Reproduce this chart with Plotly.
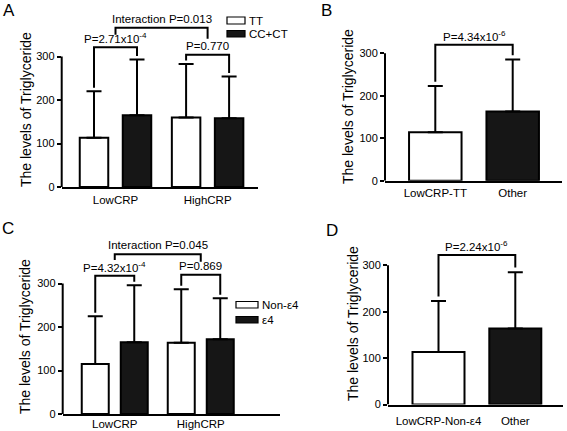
import plotly.graph_objects as go

W, H = 567, 431
FONT = "Liberation Sans, Arial, sans-serif"

# ---------------- data ----------------
# Panel A
a_groups = ["LowCRP", "HighCRP"]
a_series = ["TT", "CC+CT"]
a_tt_mean = [113, 160]
a_tt_sd = [107, 123]
a_cc_mean = [165, 158]
a_cc_sd = [128, 96]
a_p_within = ["P=2.71x10<sup>-4</sup>", "P=0.770"]
a_bracket_y = [321, 304]
a_interaction = "Interaction P=0.013"
a_inter_y = 366
a_inter_leg_bottom = [350, 341]

# Panel B
b_groups = ["LowCRP-TT", "Other"]
b_mean = [114, 163]
b_sd = [109, 122]
b_p = "P=4.34x10<sup>-6</sup>"
b_bracket_y = 320

# Panel C
c_groups = ["LowCRP", "HighCRP"]
c_series = ["Non-ε4", "ε4"]
c_non_mean = [115, 164]
c_non_sd = [110, 123]
c_e4_mean = [165, 172]
c_e4_sd = [131, 94]
c_p_within = ["P=4.32x10<sup>-4</sup>", "P=0.869"]
c_bracket_y = [318, 320]
c_interaction = "Interaction P=0.045"
c_inter_y = 367
c_inter_leg_bottom = [354, 350]

# Panel D
d_groups = ["LowCRP-Non-ε4", "Other"]
d_mean = [113, 164]
d_sd = [110, 121]
d_p = "P=2.24x10<sup>-6</sup>"
d_bracket_y = 322

y_ticks = [0, 100, 200, 300]
y_title = "The levels of Triglyceride"
panel_letters = ["A", "B", "C", "D"]

# ---------------- geometry (pixels) ----------------
YMAX = 400
geom = {
    1: dict(left=61.7, right=258.3, base=187.0, p300=56.5, g0=115.5, g1=207.6,
            off=21.5, bw=28.5, standoff=1, title=(26, 110), letter=(1, 10.5)),
    2: dict(left=385.0, right=561.7, base=180.8, p300=53.2, g0=435.3, g1=512.7,
            off=0, bw=52.5, standoff=0, title=(348, 107), letter=(319, 10)),
    3: dict(left=62.7, right=280.0, base=414.0, p300=283.5, g0=114.75, g1=200.75,
            off=19.5, bw=27.0, standoff=-2, title=(25, 337), letter=(0, 228.5)),
    4: dict(left=388.0, right=563.0, base=404.5, p300=265.3, g0=438.5, g1=515.3,
            off=0, bw=52.0, standoff=5, title=(353, 324), letter=(324, 230.5)),
}

BLACK = "#000000"
DARK = "#161616"
fig = go.Figure()
shapes = []
annotations = []


def px(x):
    return x / W


def py(y):
    return 1 - y / H


def setup_axes(i, ticktext):
    g = geom[i]
    u = g["g1"] - g["g0"]
    top = g["base"] - YMAX * (g["base"] - g["p300"]) / 300.0
    xname = "xaxis" if i == 1 else f"xaxis{i}"
    yname = "yaxis" if i == 1 else f"yaxis{i}"
    xa = "x" if i == 1 else f"x{i}"
    ya = "y" if i == 1 else f"y{i}"
    fig.update_layout(**{
        xname: dict(domain=[px(g["left"]), px(g["right"])],
                    range=[(g["left"] - g["g0"]) / u, (g["right"] - g["g0"]) / u],
                    anchor=ya, showgrid=False, zeroline=False, showline=True,
                    automargin=False,
                    linecolor=BLACK, linewidth=2, ticks="", tickvals=[0, 1],
                    ticktext=ticktext, ticklabelstandoff=g["standoff"],
                    tickfont=dict(family=FONT, size=11.5, color=BLACK)),
        yname: dict(domain=[py(g["base"]), py(top)], range=[0, YMAX], anchor=xa,
                    showgrid=False, zeroline=False, showline=False, automargin=False,
                    ticks="outside", ticklen=4, tickwidth=2, tickcolor=BLACK,
                    tickvals=y_ticks,
                    tickfont=dict(family=FONT, size=11, color=BLACK)),
    })
    # y axis line only from 0 to 300
    shapes.append(dict(type="line", xref=f"{xa} domain", yref=ya, x0=0, x1=0,
                       y0=0, y1=y_ticks[-1], line=dict(color=BLACK, width=2)))
    tx, ty = g["title"]
    annotations.append(dict(text=y_title, xref="paper", yref="paper", x=px(tx), y=py(ty),
                            textangle=-90, showarrow=False, xanchor="center", yanchor="middle",
                            font=dict(family=FONT, size=14, color=BLACK)))
    lx, ly = g["letter"]
    annotations.append(dict(text=panel_letters[i - 1], xref="paper", yref="paper",
                            x=px(lx), y=py(ly), showarrow=False, xanchor="left",
                            yanchor="middle", font=dict(family=FONT, size=17, color=BLACK)))
    return xa, ya, u


def err(sd):
    return dict(type="data", symmetric=False, array=sd, arrayminus=[0] * len(sd),
                color=BLACK, thickness=2, width=7.5)


def bracket(xa, ya, x0, x1, y, yl, yr):
    shapes.append(dict(type="path", xref=xa, yref=ya,
                       path=f"M {x0},{yl} L {x0},{y} L {x1},{y} L {x1},{yr}",
                       line=dict(color=BLACK, width=2)))


def ptext(xa, ya, x, y, text):
    annotations.append(dict(text=text, xref=xa, yref=ya, x=x, y=y, yshift=9,
                            showarrow=False, xanchor="center", yanchor="middle",
                            font=dict(family=FONT, size=11.5, color=BLACK)))


def grouped_panel(i, groups, m1, s1, m2, s2, pw, by, inter_text, inter_y, inter_legs):
    xa, ya, u = setup_axes(i, groups)
    g = geom[i]
    off = g["off"] / u
    bw = g["bw"] / u
    xs1 = [k - off for k in range(len(groups))]
    xs2 = [k + off for k in range(len(groups))]
    fig.add_trace(go.Bar(x=xs1, y=m1, width=[bw] * len(groups), xaxis=xa, yaxis=ya,
                         marker=dict(color="white", line=dict(color=BLACK, width=2)),
                         error_y=err(s1), showlegend=False))
    fig.add_trace(go.Bar(x=xs2, y=m2, width=[bw] * len(groups), xaxis=xa, yaxis=ya,
                         marker=dict(color=DARK, line=dict(color=BLACK, width=2)),
                         error_y=err(s2), showlegend=False))
    for k in range(len(groups)):
        bracket(xa, ya, xs1[k], xs2[k], by[k], m1[k] + s1[k] + 8, m2[k] + s2[k] + 8)
        ptext(xa, ya, k, by[k], pw[k])
    bracket(xa, ya, 0, 1, inter_y, inter_legs[0], inter_legs[1])
    ptext(xa, ya, 0.5, inter_y, inter_text)


def pair_panel(i, groups, m, s, ptxt, by):
    xa, ya, u = setup_axes(i, groups)
    g = geom[i]
    bw = g["bw"] / u
    xs = list(range(len(groups)))
    fig.add_trace(go.Bar(x=xs, y=m, width=[bw] * len(groups), xaxis=xa, yaxis=ya,
                         marker=dict(color=["white", DARK], line=dict(color=BLACK, width=2)),
                         error_y=err(s), showlegend=False))
    bracket(xa, ya, 0, 1, by, m[0] + s[0] + 10, m[1] + s[1] + 10)
    ptext(xa, ya, 0.5, by, ptxt)


def legend(entries, x0, x1, rows, text_x):
    for (label, fill), (y0, y1) in zip(entries, rows):
        shapes.append(dict(type="rect", xref="paper", yref="paper",
                           x0=px(x0), x1=px(x1), y0=py(y1), y1=py(y0),
                           fillcolor=fill, line=dict(color=BLACK, width=1.2)))
        annotations.append(dict(text=label, xref="paper", yref="paper", x=px(text_x),
                                y=py((y0 + y1) / 2), showarrow=False, xanchor="left",
                                yanchor="middle", font=dict(family=FONT, size=11.5, color=BLACK)))


grouped_panel(1, a_groups, a_tt_mean, a_tt_sd, a_cc_mean, a_cc_sd, a_p_within,
              a_bracket_y, a_interaction, a_inter_y, a_inter_leg_bottom)
pair_panel(2, b_groups, b_mean, b_sd, b_p, b_bracket_y)
grouped_panel(3, c_groups, c_non_mean, c_non_sd, c_e4_mean, c_e4_sd, c_p_within,
              c_bracket_y, c_interaction, c_inter_y, c_inter_leg_bottom)
pair_panel(4, d_groups, d_mean, d_sd, d_p, d_bracket_y)

legend(list(zip(a_series, ["white", DARK])), 227, 245, [(17, 24), (30.5, 37)], 247)
legend(list(zip(c_series, ["white", DARK])), 236, 258, [(301.5, 308), (316.5, 323)], 260)

fig.update_layout(width=W, height=H, margin=dict(l=0, r=0, t=0, b=0),
                  paper_bgcolor="white", plot_bgcolor="white", barmode="overlay",
                  shapes=shapes, annotations=annotations, showlegend=False,
                  hovermode=False, font=dict(family=FONT, color=BLACK))

fig.write_html("out.html", config={"displayModeBar": False, "staticPlot": True},
               post_script="document.body.style.margin='0';document.body.style.padding='0';")
